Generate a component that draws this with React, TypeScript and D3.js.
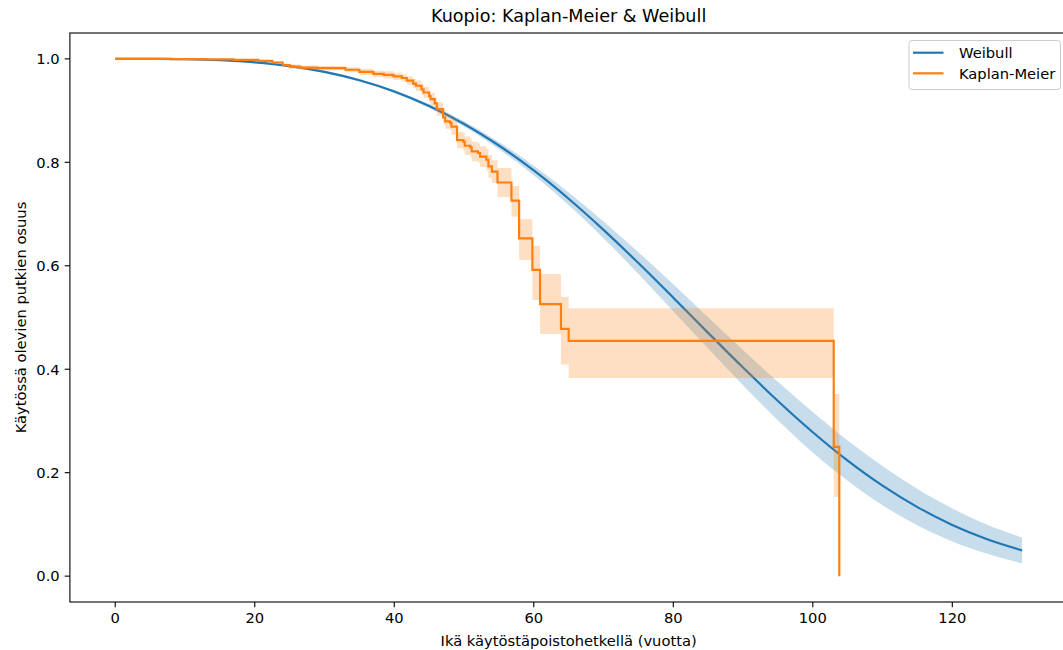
import React from "react";
import * as d3 from "d3";

// Kaplan-Meier estimate: event times (years) and survival after each drop,
// with the 95% confidence limits for each step.
const kmTimes = [
  0, 8, 13, 17, 20.5, 22.5, 24, 25, 26.5, 29, 33, 35, 37, 38.5, 39.9, 41.1,
  41.8, 42.7, 43.1, 43.9, 44.2, 45.0, 45.2, 45.8, 46.1, 47.0, 47.3, 48.0, 48.2,
  49.0, 49.9, 50.1, 50.9, 51.1, 52.0, 52.3, 53.2, 53.5, 54.0, 54.8, 56.8, 57.9,
  59.8, 60.9, 63.9, 65.0, 103.0, 103.8,
];
const kmSurvival = [
  1.0, 0.9995, 0.999, 0.998, 0.996, 0.993, 0.988, 0.985, 0.983, 0.982, 0.979,
  0.975, 0.971, 0.969, 0.966, 0.963, 0.958, 0.952, 0.948, 0.941, 0.935, 0.928,
  0.922, 0.914, 0.903, 0.887, 0.879, 0.876, 0.869, 0.843, 0.84, 0.832, 0.829,
  0.821, 0.818, 0.811, 0.805, 0.792, 0.782, 0.761, 0.726, 0.653, 0.592, 0.526,
  0.478, 0.455, 0.25, 0.0,
];
const kmLower = [
  1.0, 0.999, 0.998, 0.997, 0.993, 0.99, 0.985, 0.981, 0.979, 0.978, 0.974,
  0.969, 0.965, 0.962, 0.959, 0.956, 0.95, 0.943, 0.938, 0.93, 0.924, 0.917,
  0.91, 0.902, 0.89, 0.873, 0.865, 0.861, 0.854, 0.827, 0.823, 0.814, 0.811,
  0.802, 0.799, 0.791, 0.784, 0.77, 0.76, 0.733, 0.695, 0.611, 0.534, 0.468,
  0.409, 0.383, 0.153, 0.0,
];
const kmUpper = [
  1.0, 1.0, 1.0, 0.999, 0.998, 0.996, 0.991, 0.989, 0.987, 0.986, 0.984,
  0.981, 0.977, 0.976, 0.973, 0.97, 0.966, 0.961, 0.958, 0.951, 0.946, 0.939,
  0.934, 0.926, 0.916, 0.901, 0.893, 0.89, 0.884, 0.859, 0.857, 0.85, 0.847,
  0.84, 0.837, 0.831, 0.826, 0.814, 0.804, 0.789, 0.754, 0.69, 0.638, 0.584,
  0.54, 0.518, 0.352, 0.0,
];

// Fitted Weibull survival curve and the half-width of its confidence band.
const weibullTimes = [
  0, 5, 10, 15, 20, 25, 30, 35, 40, 45, 50, 55, 60, 65, 70, 75, 80, 85, 90, 95,
  100, 105, 110, 115, 120, 125, 130,
];
const weibullSurvival = [
  1.0, 0.9999, 0.9993, 0.9973, 0.9932, 0.986, 0.9748, 0.9587, 0.937, 0.9089,
  0.8742, 0.8325, 0.7842, 0.7295, 0.6694, 0.6052, 0.5383, 0.4703, 0.4032,
  0.3386, 0.2782, 0.2233, 0.1749, 0.1334, 0.0989, 0.0712, 0.0497,
];
const weibullHalfWidth = [
  0, 0, 0.0004, 0.0008, 0.0012, 0.0016, 0.002, 0.0025, 0.003, 0.004, 0.005,
  0.007, 0.009, 0.012, 0.016, 0.021, 0.026, 0.03, 0.034, 0.037, 0.039, 0.039,
  0.038, 0.035, 0.032, 0.028, 0.025,
];

const xTicks = [0, 20, 40, 60, 80, 100, 120];
const yTicks = [0.0, 0.2, 0.4, 0.6, 0.8, 1.0];

const titleText = "Kuopio: Kaplan-Meier & Weibull";
const xLabel = "Ikä käytöstäpoistohetkellä (vuotta)";
const yLabel = "Käytössä olevien putkien osuus";
const legendLabels = ["Weibull", "Kaplan-Meier"];

const BLUE = "#1f77b4";
const ORANGE = "#ff7f0e";
const FONT = "'DejaVu Sans', sans-serif";

export default function App() {
  const width = 1063;
  const height = 650;
  const left = 69.9;
  const right = 1067.4;
  const top = 33;
  const bottom = 602;

  const x = d3.scaleLinear().domain([-6.5, 136.5]).range([left, right]);
  const y = d3.scaleLinear().domain([-0.05, 1.05]).range([bottom, top]);

  const km = kmTimes.map((t, i) => ({
    t,
    s: kmSurvival[i],
    lo: kmLower[i],
    hi: kmUpper[i],
  }));
  const wb = weibullTimes.map((t, i) => ({
    t,
    s: weibullSurvival[i],
    lo: weibullSurvival[i] - weibullHalfWidth[i],
    hi: weibullSurvival[i] + weibullHalfWidth[i],
  }));

  const smooth = d3.curveCatmullRom.alpha(0.5);
  const wbLine = d3
    .line<any>()
    .x((d) => x(d.t))
    .y((d) => y(d.s))
    .curve(smooth)(wb);
  const wbArea = d3
    .area<any>()
    .x((d) => x(d.t))
    .y0((d) => y(d.lo))
    .y1((d) => y(d.hi))
    .curve(smooth)(wb);

  const kmLine = d3
    .line<any>()
    .x((d) => x(d.t))
    .y((d) => y(d.s))
    .curve(d3.curveStepAfter)(km);
  const kmArea = d3
    .area<any>()
    .x((d) => x(d.t))
    .y0((d) => y(d.lo))
    .y1((d) => y(d.hi))
    .curve(d3.curveStepAfter)(km);

  const fs = 14.7;
  const tickLen = 5.2;

  return (
    <svg
      width={width}
      height={height}
      style={{ position: "absolute", left: 0, top: 0, background: "#fff" }}
      fontFamily={FONT}
    >
      <rect x={0} y={0} width={width} height={height} fill="#fff" />
      <defs>
        <clipPath id="plotArea">
          <rect x={left} y={top} width={right - left} height={bottom - top} />
        </clipPath>
      </defs>

      <g clipPath="url(#plotArea)">
        <path d={wbArea ?? ""} fill={BLUE} fillOpacity={0.25} stroke="none" />
        <path d={wbLine ?? ""} fill="none" stroke={BLUE} strokeWidth={2.2} />
        <path d={kmArea ?? ""} fill={ORANGE} fillOpacity={0.25} stroke="none" />
        <path
          d={kmLine ?? ""}
          fill="none"
          stroke={ORANGE}
          strokeWidth={2.2}
          strokeLinejoin="miter"
        />
      </g>

      {/* spines */}
      <rect
        x={left}
        y={top}
        width={right - left}
        height={bottom - top}
        fill="none"
        stroke="#000"
        strokeWidth={1.1}
      />

      {/* x axis */}
      {xTicks.map((v) => (
        <g key={"x" + v} transform={`translate(${x(v)},${bottom})`}>
          <line y1={0} y2={tickLen} stroke="#000" strokeWidth={1.1} />
          <text
            y={tickLen + 5 + fs * 0.76}
            textAnchor="middle"
            fontSize={fs}
            fill="#000"
          >
            {v}
          </text>
        </g>
      ))}
      {/* y axis */}
      {yTicks.map((v) => (
        <g key={"y" + v} transform={`translate(${left},${y(v)})`}>
          <line x1={0} x2={-tickLen} stroke="#000" strokeWidth={1.1} />
          <text
            x={-tickLen - 5}
            dy="0.36em"
            textAnchor="end"
            fontSize={fs}
            fill="#000"
          >
            {d3.format(".1f")(v)}
          </text>
        </g>
      ))}

      <text
        x={(left + right) / 2}
        y={646}
        textAnchor="middle"
        fontSize={fs}
        fill="#000"
      >
        {xLabel}
      </text>
      <text
        transform={`translate(26,${(top + bottom) / 2}) rotate(-90)`}
        textAnchor="middle"
        fontSize={fs}
        fill="#000"
      >
        {yLabel}
      </text>
      <text
        x={(left + right) / 2}
        y={22}
        textAnchor="middle"
        fontSize={17.6}
        fill="#000"
      >
        {titleText}
      </text>

      {/* legend */}
      <g>
        <rect
          x={909}
          y={40.5}
          width={151.5}
          height={49}
          rx={3}
          fill="#fff"
          fillOpacity={0.8}
          stroke="#cccccc"
          strokeWidth={1}
        />
        {legendLabels.map((lab, i) => {
          const cy = 52.7 + i * 20.6;
          return (
            <g key={lab}>
              <line
                x1={913}
                x2={943.5}
                y1={cy}
                y2={cy}
                stroke={i === 0 ? BLUE : ORANGE}
                strokeWidth={2.2}
              />
              <text x={959} y={cy + 5.2} fontSize={fs} fill="#000">
                {lab}
              </text>
            </g>
          );
        })}
      </g>
    </svg>
  );
}
